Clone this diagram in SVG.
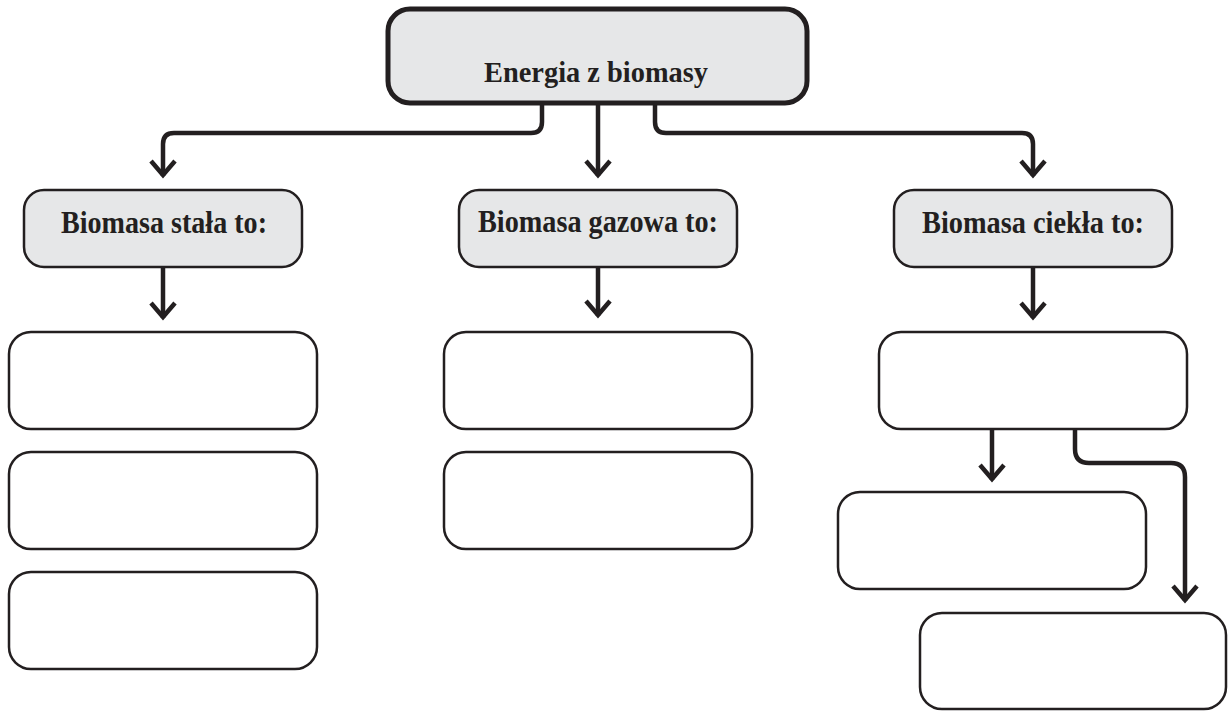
<svg xmlns="http://www.w3.org/2000/svg" width="1228" height="711" viewBox="0 0 1228 711">
  <style>
    .head { fill: #e6e7e8; stroke: #231f20; stroke-width: 2.5; }
    .root { fill: #e6e7e8; stroke: #231f20; stroke-width: 5; }
    .blank { fill: #ffffff; stroke: #231f20; stroke-width: 2.5; }
    .wire { fill: none; stroke: #231f20; stroke-width: 4.5; stroke-linejoin: miter; }
    .tip { fill: none; stroke: #231f20; stroke-width: 4.5; stroke-linejoin: miter; stroke-linecap: butt; }
    .lbl { font-family: "Liberation Serif", "Times New Roman", serif; font-weight: bold; fill: #231f20; text-anchor: middle; }
  </style>
  <rect width="1228" height="711" fill="#ffffff"/>

  <!-- connectors -->
  <g id="connectors">
    <!-- root to three categories -->
    <path class="wire" d="M542,104 V122 Q542,133 531,133 H174 Q163,133 163,144 V176"/>
    <path class="tip" d="M151,161 L163,175 L175,161"/>
    <path class="wire" d="M598,104 V176"/>
    <path class="tip" d="M586,161 L598,175 L610,161"/>
    <path class="wire" d="M655,104 V122 Q655,133 666,133 H1022 Q1033,133 1033,144 V176"/>
    <path class="tip" d="M1021,161 L1033,175 L1045,161"/>
    <!-- categories to first answer boxes -->
    <path class="wire" d="M163,267 V318"/>
    <path class="tip" d="M151,303 L163,317 L175,303"/>
    <path class="wire" d="M598,267 V316"/>
    <path class="tip" d="M586,301 L598,315 L610,301"/>
    <path class="wire" d="M1033,267 V318"/>
    <path class="tip" d="M1021,303 L1033,317 L1045,303"/>
    <!-- liquid biomass branches -->
    <path class="wire" d="M992,429 V480"/>
    <path class="tip" d="M980,465 L992,479 L1004,465"/>
    <path class="wire" d="M1075,429 V449 Q1075,463 1089,463 H1171 Q1185,463 1185,477 V601"/>
    <path class="tip" d="M1173,586 L1185,600 L1197,586"/>
  </g>

  <g id="root">
    <rect class="root" x="388" y="9" width="419" height="94" rx="22"/>
    <text class="lbl" x="596" y="82" font-size="30" textLength="224" lengthAdjust="spacingAndGlyphs">Energia z biomasy</text>
  </g>

  <g id="solid">
    <rect class="head" x="24" y="190" width="278" height="77" rx="20"/>
    <text class="lbl" x="164" y="233" font-size="32" textLength="206" lengthAdjust="spacingAndGlyphs">Biomasa stała to:</text>
  </g>
  <g id="gas">
    <rect class="head" x="459" y="190" width="278" height="77" rx="20"/>
    <text class="lbl" x="598" y="232" font-size="32" textLength="240" lengthAdjust="spacingAndGlyphs">Biomasa gazowa to:</text>
  </g>
  <g id="liquid">
    <rect class="head" x="894" y="190" width="278" height="77" rx="20"/>
    <text class="lbl" x="1033" y="233" font-size="32" textLength="222" lengthAdjust="spacingAndGlyphs">Biomasa ciekła to:</text>
  </g>

  <g id="solid-1"><rect class="blank" x="9" y="332" width="308" height="97" rx="22"/></g>
  <g id="solid-2"><rect class="blank" x="9" y="452" width="308" height="97" rx="22"/></g>
  <g id="solid-3"><rect class="blank" x="9" y="572" width="308" height="97" rx="22"/></g>

  <g id="gas-1"><rect class="blank" x="444" y="332" width="308" height="97" rx="22"/></g>
  <g id="gas-2"><rect class="blank" x="444" y="452" width="308" height="97" rx="22"/></g>

  <g id="liquid-1"><rect class="blank" x="879" y="332" width="308" height="97" rx="22"/></g>
  <g id="liquid-2"><rect class="blank" x="838" y="492" width="308" height="97" rx="22"/></g>
  <g id="liquid-3"><rect class="blank" x="920" y="613" width="306" height="96" rx="22"/></g>
</svg>
